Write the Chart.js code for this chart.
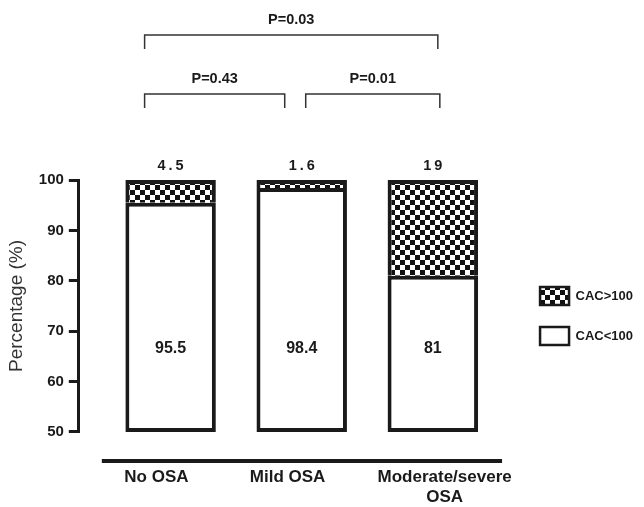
<!DOCTYPE html>
<html>
<head>
<meta charset="utf-8">
<script src="https://cdn.jsdelivr.net/npm/chart.js@4.4.0/dist/chart.umd.min.js"></script>
<style>
  html, body { margin: 0; padding: 0; background: #fff; }
  #wrap { width: 644px; height: 507px; }
</style>
</head>
<body>
<div id="wrap"><canvas id="chart" width="644" height="507"></canvas></div>
<script>
// data
const categories = ['No OSA', 'Mild OSA', ['Moderate/severe', 'OSA']];
const cacBelow100 = [95.5, 98.4, 81];
const cacAbove100 = [4.5, 1.6, 19];
const yTicks = [50, 60, 70, 80, 90, 100];
const comparisons = [[0, 2], [0, 1], [1, 2]];
const pValues = ['P=0.03', 'P=0.43', 'P=0.01'];

const FONT = "'Liberation Sans', Arial, Helvetica, sans-serif";
const INK = '#1a1a1a';
const yMin = yTicks[0];
const yMax = yTicks[yTicks.length - 1];

// category labels sit a little off the bar centres in the original
// (negative = pad right so the text moves left)
const labelNudge = [-6, -6, 5];

// bracket drawing (pixels relative to chart top / bar centres)
const bracketLayout = [
    { rise: 145, from: -26, to: 5 },
    { rise: 86, from: -26, to: -17 },
    { rise: 86, from: 4, to: 7 }
];

const canvas = document.getElementById('chart');
const ctx = canvas.getContext('2d');

function checkerPattern(size) {
    const c = document.createElement('canvas');
    c.width = c.height = size * 2;
    const g = c.getContext('2d');
    g.fillStyle = '#fff';
    g.fillRect(0, 0, size * 2, size * 2);
    g.fillStyle = '#111';
    g.fillRect(0, 0, size, size);
    g.fillRect(size, size, size, size);
    return ctx.createPattern(c, 'repeat');
}
const checker = checkerPattern(5);

function nudged(label, n) {
    const pad = ' '.repeat(Math.abs(n));
    const one = s => n < 0 ? s + pad : pad + s;
    return Array.isArray(label) ? label.map(one) : one(label);
}

const annotations = {
    id: 'annotations',
    afterDatasetsDraw(chart) {
        const { ctx, chartArea, scales: { x, y } } = chart;
        ctx.save();
        ctx.fillStyle = INK;
        ctx.textAlign = 'center';
        ctx.textBaseline = 'middle';

        ctx.font = `bold 16px ${FONT}`;
        cacBelow100.forEach((v, i) => {
            ctx.fillText(String(v), x.getPixelForValue(i), y.getPixelForValue(66.5));
        });

        ctx.font = `bold 14.5px ${FONT}`;
        ctx.letterSpacing = '3px';
        cacAbove100.forEach((v, i) => {
            ctx.fillText(String(v), x.getPixelForValue(i) + 1.5, chartArea.top - 14);
        });
        ctx.letterSpacing = '0px';

        // separate x axis rule under the bars
        ctx.strokeStyle = INK;
        ctx.lineWidth = 4;
        ctx.beginPath();
        ctx.moveTo(chartArea.left + 23, chartArea.bottom + 29);
        ctx.lineTo(chartArea.right - 16, chartArea.bottom + 29);
        ctx.stroke();

        // significance brackets
        ctx.strokeStyle = '#333';
        ctx.lineWidth = 1.5;
        ctx.font = `bold 14.5px ${FONT}`;
        comparisons.forEach(([a, b], k) => {
            const lay = bracketLayout[k];
            const x1 = x.getPixelForValue(a) + lay.from;
            const x2 = x.getPixelForValue(b) + lay.to;
            const yy = chartArea.top - lay.rise;
            ctx.beginPath();
            ctx.moveTo(x1, yy + 14);
            ctx.lineTo(x1, yy);
            ctx.lineTo(x2, yy);
            ctx.lineTo(x2, yy + 14);
            ctx.stroke();
            ctx.fillText(pValues[k], (x1 + x2) / 2, yy - 15);
        });
        ctx.restore();
    }
};

new Chart(ctx, {
    type: 'bar',
    data: {
        datasets: [
            {
                label: 'CAC<100',
                data: cacBelow100.map((v, i) => ({ x: i, y: [yMin, v] })),
                backgroundColor: '#fff',
                borderColor: INK,
                borderWidth: 4,
                borderSkipped: false,
                grouped: false,
                barPercentage: 0.69,
                categoryPercentage: 1
            },
            {
                label: 'CAC>100',
                data: cacAbove100.map((v, i) => ({ x: i, y: [cacBelow100[i], cacBelow100[i] + v] })),
                backgroundColor: checker,
                borderColor: INK,
                borderWidth: { top: 4, left: 4, right: 4, bottom: 0 },
                borderSkipped: false,
                grouped: false,
                barPercentage: 0.69,
                categoryPercentage: 1
            }
        ]
    },
    options: {
        responsive: false,
        animation: false,
        devicePixelRatio: 1,
        layout: { padding: { top: 180, right: 1, bottom: 0, left: 0 } },
        plugins: {
            tooltip: { enabled: false },
            legend: {
                position: 'right',
                fullSize: false,
                reverse: true,
                title: { display: true, text: ' ', font: { size: 10 }, padding: 4 },
                labels: {
                    boxWidth: 29,
                    boxHeight: 18,
                    padding: 22,
                    color: INK,
                    font: { family: FONT, size: 13, weight: 'bold' },
                    generateLabels: chart =>
                        Chart.defaults.plugins.legend.labels.generateLabels(chart)
                            .map(l => ({ ...l, lineWidth: 2.5 }))
                }
            }
        },
        scales: {
            x: {
                type: 'linear',
                offset: false,
                min: -0.7,
                max: 2.65,
                grid: { display: false, drawTicks: false, offset: false },
                border: { display: false },
                afterFit: scale => { scale.height -= scale.options.ticks.padding; },
                ticks: {
                    stepSize: 1,
                    includeBounds: false,
                    autoSkip: false,
                    maxRotation: 0,
                    padding: 35,
                    color: INK,
                    font: { family: FONT, size: 17, weight: 'bold', lineHeight: 1.18 },
                    callback: v => (Number.isInteger(v) && categories[v] !== undefined)
                        ? nudged(categories[v], labelNudge[v]) : ''
                }
            },
            y: {
                min: yMin,
                max: yMax,
                afterBuildTicks: scale => { scale.ticks = yTicks.map(v => ({ value: v })); },
                grid: {
                    drawOnChartArea: false,
                    drawTicks: true,
                    tickLength: 10,
                    color: INK,
                    lineWidth: 3
                },
                border: { display: true, color: INK, width: 3 },
                ticks: {
                    padding: 5,
                    color: INK,
                    font: { family: FONT, size: 15, weight: 'bold' }
                },
                title: {
                    display: true,
                    text: 'Percentage (%)',
                    color: '#333',
                    font: { family: FONT, size: 19 },
                    padding: { top: 5, bottom: 6 }
                }
            }
        }
    },
    plugins: [annotations]
});
</script>
</body>
</html>
